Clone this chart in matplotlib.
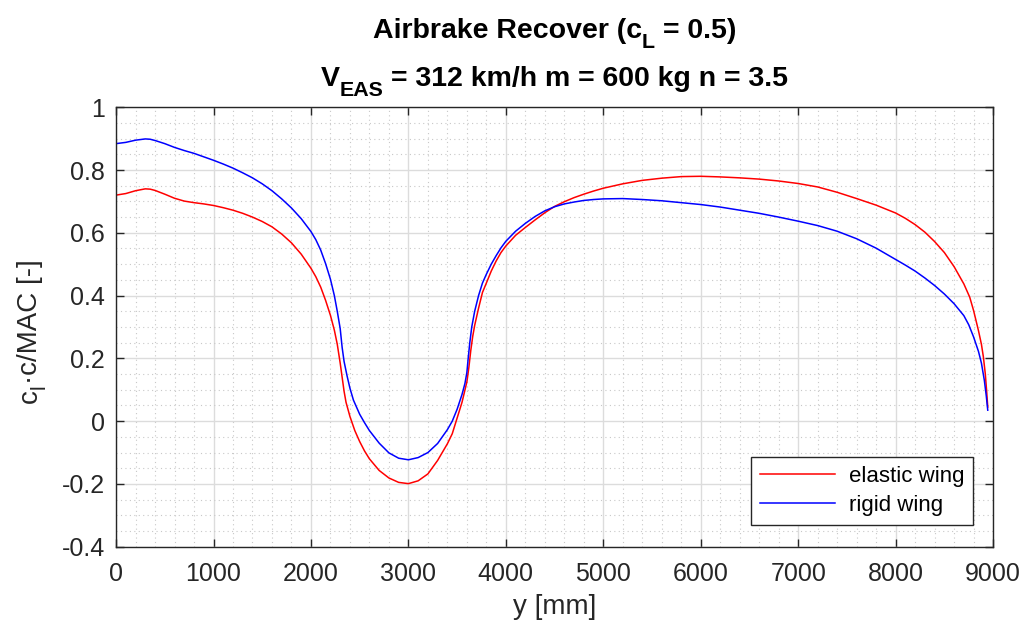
import matplotlib
matplotlib.use("Agg")
import matplotlib.pyplot as plt
from matplotlib.ticker import MultipleLocator, FormatStrFormatter

plt.rcParams['font.family'] = ['Liberation Sans', 'DejaVu Sans']
plt.rcParams['axes.unicode_minus'] = False

# Spanwise lift distribution, elastic wing
y_elastic = [0, 100, 200, 300, 350, 400, 500, 600, 700, 800, 900, 1000, 1100,
             1200, 1300, 1400, 1500, 1600, 1700, 1800, 1900, 2000, 2050, 2100,
             2150, 2200, 2240, 2270, 2290, 2300, 2320, 2340, 2360, 2400, 2450,
             2500, 2550, 2600, 2700, 2800, 2900, 3000, 3100, 3200, 3300, 3400,
             3450, 3500, 3550, 3600, 3620, 3640, 3660, 3680, 3720, 3760, 3800,
             3850, 3900, 3950, 4000, 4100, 4200, 4300, 4400, 4500, 4600, 4700,
             4800, 4900, 5000, 5200, 5400, 5600, 5800, 6000, 6200, 6400, 6600,
             6800, 7000, 7200, 7400, 7600, 7800, 8000, 8100, 8200, 8300, 8400,
             8500, 8600, 8700, 8760, 8800, 8850, 8880, 8900, 8920, 8935, 8945]
cl_elastic = [0.720, 0.725, 0.734, 0.740, 0.739, 0.735, 0.723, 0.710, 0.701,
              0.696, 0.692, 0.687, 0.680, 0.672, 0.662, 0.650, 0.636, 0.619,
              0.596, 0.568, 0.532, 0.487, 0.460, 0.427, 0.385, 0.337, 0.290,
              0.245, 0.205, 0.185, 0.140, 0.095, 0.060, 0.015, -0.030, -0.065,
              -0.095, -0.120, -0.157, -0.181, -0.195, -0.199, -0.190, -0.168,
              -0.125, -0.072, -0.040, 0.010, 0.060, 0.125, 0.170, 0.225, 0.270,
              0.305, 0.360, 0.410, 0.440, 0.478, 0.510, 0.537, 0.558, 0.592,
              0.617, 0.641, 0.664, 0.684, 0.699, 0.712, 0.723, 0.733, 0.742,
              0.756, 0.767, 0.774, 0.779, 0.780, 0.778, 0.775, 0.771, 0.765,
              0.757, 0.746, 0.729, 0.709, 0.688, 0.663, 0.646, 0.626, 0.602,
              0.572, 0.537, 0.492, 0.437, 0.395, 0.352, 0.288, 0.245, 0.205,
              0.150, 0.090, 0.045]

# Spanwise lift distribution, rigid wing
y_rigid = [0, 100, 200, 300, 350, 400, 500, 600, 700, 800, 900, 1000, 1100,
           1200, 1300, 1400, 1500, 1600, 1700, 1800, 1900, 2000, 2050, 2100,
           2150, 2200, 2240, 2270, 2300, 2310, 2320, 2340, 2370, 2400, 2436,
           2500, 2550, 2600, 2700, 2800, 2900, 3000, 3100, 3200, 3300, 3400,
           3450, 3500, 3550, 3580, 3600, 3615, 3630, 3650, 3680, 3720, 3760,
           3800, 3850, 3900, 3950, 4000, 4100, 4200, 4300, 4400, 4500, 4600,
           4700, 4800, 4900, 5000, 5200, 5400, 5600, 5800, 6000, 6200, 6400,
           6600, 6800, 7000, 7200, 7400, 7600, 7800, 8000, 8100, 8200, 8300,
           8400, 8500, 8600, 8700, 8750, 8800, 8850, 8880, 8910, 8930, 8945]
cl_rigid = [0.884, 0.888, 0.895, 0.899, 0.898, 0.894, 0.884, 0.872, 0.862,
            0.853, 0.842, 0.831, 0.819, 0.806, 0.791, 0.775, 0.756, 0.734,
            0.708, 0.679, 0.645, 0.604, 0.578, 0.545, 0.502, 0.452, 0.400,
            0.350, 0.295, 0.265, 0.235, 0.190, 0.145, 0.105, 0.067, 0.022,
            -0.005, -0.030, -0.070, -0.101, -0.118, -0.123, -0.116, -0.100,
            -0.071, -0.027, 0.000, 0.038, 0.085, 0.120, 0.155, 0.205, 0.250,
            0.300, 0.350, 0.400, 0.440, 0.468, 0.500, 0.527, 0.552, 0.573,
            0.605, 0.630, 0.652, 0.670, 0.683, 0.692, 0.698, 0.703, 0.706,
            0.708, 0.709, 0.706, 0.702, 0.696, 0.690, 0.682, 0.672, 0.662,
            0.650, 0.637, 0.623, 0.605, 0.581, 0.551, 0.515, 0.497, 0.478,
            0.456, 0.432, 0.405, 0.374, 0.336, 0.307, 0.268, 0.222, 0.185,
            0.130, 0.080, 0.035]

series_labels = ['elastic wing', 'rigid wing']
# (text, is_subscript, space_before)
title_line1 = [('Airbrake Recover (c', False, False), ('L', True, False),
               ('= 0.5)', False, True)]
title_line2 = [('V', False, False), ('EAS', True, False),
               ('= 312 km/h m = 600 kg n = 3.5', False, True)]
ylabel_parts = [('c', False, False), ('l', True, False),
                ('·c/MAC [-]', False, False)]
xlabel_text = 'y [mm]'


def rich_text(fig, x, y, parts, size, sub_scale, sub_drop, rotation=0,
              **kw):
    """Draw a line made of normal and lowered (subscript) pieces, centred
    on (x, y) in figure coordinates with (x, y) on the main baseline."""
    r = fig.canvas.get_renderer()
    W, H = fig.bbox.width, fig.bbox.height

    def extent(s, fs):
        t = fig.text(0, 0, s, fontsize=fs, **kw)
        w = t.get_window_extent(r).width
        t.remove()
        return w

    space = extent('x x', size) - extent('xx', size)
    items, total = [], 0.0
    for s, is_sub, gap in parts:
        fs = size * sub_scale if is_sub else size
        t = fig.text(0, 0, s, fontsize=fs, rotation=rotation,
                     rotation_mode='anchor', ha='left', va='baseline', **kw)
        bb = t.get_window_extent(r)
        w = bb.width if rotation == 0 else bb.height
        g = space if gap else 0.0
        items.append((t, is_sub, g, w))
        total += g + w
    pos = (x * W if rotation == 0 else y * H) - total / 2
    for t, is_sub, g, w in items:
        pos += g
        drop = sub_drop if is_sub else 0.0
        if rotation == 0:
            t.set_position((pos / W, (y * H - drop) / H))
        else:
            t.set_position(((x * W + drop) / W, pos / H))
        pos += w


fig = plt.figure(figsize=(10.27, 6.27), dpi=100)
ax = fig.add_axes([0.113, 0.128, 0.854, 0.701])

ax.plot(y_elastic, cl_elastic, color=(1, 0, 0), lw=1.1, label=series_labels[0])
ax.plot(y_rigid, cl_rigid, color=(0, 0, 1), lw=1.1, label=series_labels[1])

ax.set_xlim(0, 9000)
ax.set_ylim(-0.4, 1.0)
ax.xaxis.set_major_locator(MultipleLocator(1000))
ax.xaxis.set_minor_locator(MultipleLocator(200))
ax.yaxis.set_major_locator(MultipleLocator(0.2))
ax.yaxis.set_minor_locator(MultipleLocator(0.05))
ax.yaxis.set_major_formatter(FormatStrFormatter('%g'))
ax.xaxis.set_major_formatter(FormatStrFormatter('%g'))

ax.grid(which='major', color='#dcdcdc', lw=1.0, ls='-')
ax.grid(which='minor', color='#c8c8c8', lw=0.8, ls=(0, (1, 3)))
ax.set_axisbelow(True)

axis_color = '#262626'
for sp in ax.spines.values():
    sp.set_color(axis_color)
    sp.set_linewidth(1.0)
ax.tick_params(which='major', direction='in', length=6, width=1.0,
               top=True, right=True, colors=axis_color, labelcolor=axis_color,
               labelsize=18)
ax.tick_params(axis='x', which='major', pad=11)
ax.tick_params(axis='y', which='major', pad=8)
ax.tick_params(which='minor', length=0, top=True, right=True)

ax.set_xlabel(xlabel_text, fontsize=20, color=axis_color, va='center')
ax.xaxis.set_label_coords(0.5, -0.137)

# y-axis label with a lowered subscript
rich_text(fig, 37 / 1027, 0.472, ylabel_parts, 20, 0.75, 8, rotation=90,
          color=axis_color)

# two-line bold title with lowered subscripts
rich_text(fig, 0.540, 0.939, title_line1, 20.5, 0.75, 10,
          fontweight='bold', color='black')
rich_text(fig, 0.540, 0.863, title_line2, 20.5, 0.75, 10,
          fontweight='bold', color='black')

leg = ax.legend(loc='lower right', bbox_to_anchor=(0.977, 0.05), fontsize=16,
                frameon=True, fancybox=False, handlelength=3.4,
                borderpad=0.4, labelspacing=0.35, handletextpad=0.6,
                borderaxespad=0)
leg.get_frame().set_edgecolor(axis_color)
leg.get_frame().set_linewidth(1.0)
leg.get_frame().set_alpha(1.0)

fig.savefig('out.png', dpi=100)
